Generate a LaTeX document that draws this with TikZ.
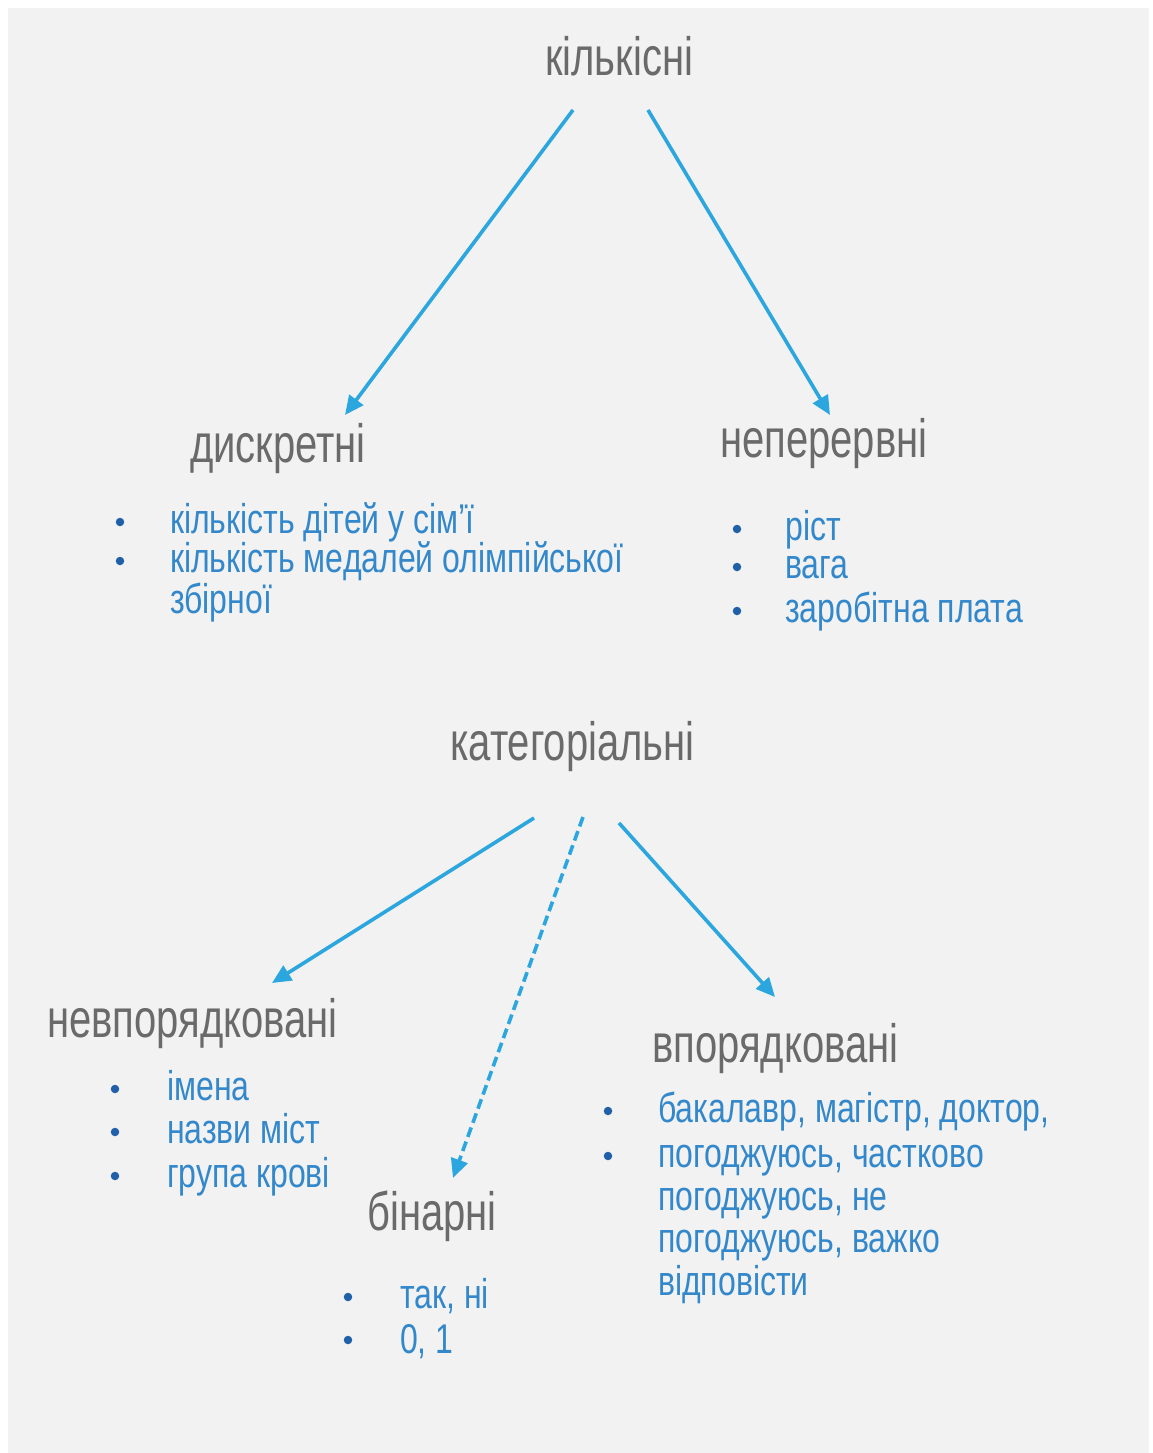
\documentclass[tikz,border=0pt]{standalone}
\usepackage{fontspec}
\usepackage{graphicx}
\setmainfont{Liberation Sans}
\usetikzlibrary{arrows.meta}
\definecolor{bgpanel}{HTML}{F2F2F2}
\definecolor{headgray}{HTML}{6A6A6A}
\definecolor{itemblue}{HTML}{3388CC}
\definecolor{dotblue}{HTML}{2060A8}
\definecolor{arrowblue}{HTML}{2CA6DE}
\newcommand\hdtext[1]{{\fontsize{40}{40}\selectfont\scalebox{1}[1.35]{#1}}}
\newcommand\ittext[1]{{\fontsize{32}{32}\selectfont\scalebox{1}[1.3]{#1}}}
\tikzset{
  head/.style={anchor=base west, inner sep=0pt, text=headgray},
  item/.style={anchor=base west, inner sep=0pt, text=itemblue},
  bul/.style={circle, fill=dotblue, inner sep=0pt, minimum size=8.5pt},
  arr/.style={draw=arrowblue, line width=3.6pt, -{Triangle[length=19pt,width=17pt]}},
  darr/.style={arr, dash pattern=on 10pt off 5pt},
}
\begin{document}
\begin{tikzpicture}[x=1pt,y=-1pt]
\useasboundingbox (0,0) rectangle (1153,1453);
\fill[white] (0,0) rectangle (1153,1453);
\fill[bgpanel] (8,8) rectangle (1149,1453);

% headings
\node[head] (kil) at (545,76) {\hdtext{кількісні}};
\node[head] (dys) at (190,462) {\hdtext{дискретні}};
\node[head] (nep) at (720,457) {\hdtext{неперервні}};
\node[head] (kat) at (450,760) {\hdtext{категоріальні}};
\node[head] (nev) at (47,1037) {\hdtext{невпорядковані}};
\node[head] (bin) at (367,1230) {\hdtext{бінарні}};
\node[head] (vpo) at (652,1062) {\hdtext{впорядковані}};

% discrete items
\node[bul] (d1b) at (120,522) {};
\node[item] (d1) at (170,533) {\ittext{кількість дітей у сім’ї}};
\node[bul] (d2b) at (120,561) {};
\node[item] (d2) at (170,572) {\ittext{кількість медалей олімпійської}};
\node[item] (d3) at (170,613) {\ittext{збірної}};

% continuous items
\node[bul] (n1b) at (737,529) {};
\node[item] (n1) at (785,540) {\ittext{ріст}};
\node[bul] (n2b) at (737,567) {};
\node[item] (n2) at (785,578) {\ittext{вага}};
\node[bul] (n3b) at (737,611) {};
\node[item] (n3) at (785,622) {\ittext{заробітна плата}};

% unordered items
\node[bul] (u1b) at (115,1089) {};
\node[item] (u1) at (167,1100) {\ittext{імена}};
\node[bul] (u2b) at (115,1132) {};
\node[item] (u2) at (167,1143) {\ittext{назви міст}};
\node[bul] (u3b) at (115,1176) {};
\node[item] (u3) at (167,1187) {\ittext{група крові}};

% binary items
\node[bul] (b1b) at (348,1297) {};
\node[item] (b1) at (400,1308) {\ittext{так, ні}};
\node[bul] (b2b) at (348,1340) {};
\node[item] (b2) at (400,1353) {\ittext{0, 1}};

% ordered items
\node[bul] (o1b) at (608,1111) {};
\node[item] (o1) at (658,1122) {\ittext{бакалавр, магістр, доктор,}};
\node[bul] (o2b) at (608,1156) {};
\node[item] (o2) at (658,1167) {\ittext{погоджуюсь, частково}};
\node[item] (o3) at (658,1210) {\ittext{погоджуюсь, не}};
\node[item] (o4) at (658,1252) {\ittext{погоджуюсь, важко}};
\node[item] (o5) at (658,1295) {\ittext{відповісти}};

% connector end points
\coordinate (kilL) at (573,110);
\coordinate (kilR) at (648,110);
\coordinate (dysT) at (345,415);
\coordinate (nepT) at (830,415);
\coordinate (katL) at (534,818);
\coordinate (katM) at (583,817);
\coordinate (katR) at (619,823);
\coordinate (nevT) at (272,983);
\coordinate (binT) at (453,1178);
\coordinate (vpoT) at (775,997);

\draw[arr] (kilL) -- (dysT);
\draw[arr] (kilR) -- (nepT);
\draw[arr] (katL) -- (nevT);
\draw[darr] (katM) -- (binT);
\draw[arr] (katR) -- (vpoT);
\end{tikzpicture}
\end{document}
